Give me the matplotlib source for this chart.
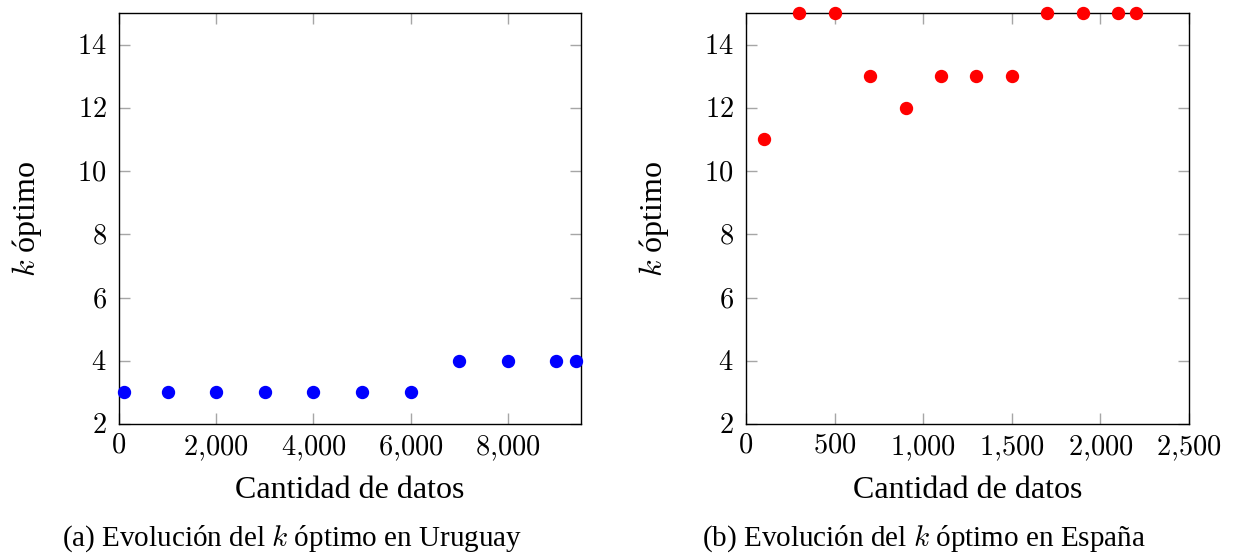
import matplotlib.pyplot as plt
from matplotlib.ticker import FuncFormatter, MultipleLocator

plt.rcParams['font.family'] = ['Liberation Serif', 'DejaVu Serif']
plt.rcParams['mathtext.fontset'] = 'cm'

# Uruguay
uy_datos = [100, 1000, 2000, 3000, 4000, 5000, 6000, 7000, 8000, 9000, 9400]
uy_k = [3, 3, 3, 3, 3, 3, 3, 4, 4, 4, 4]

# España
es_datos = [100, 300, 500, 700, 900, 1100, 1300, 1500, 1700, 1900, 2100, 2200]
es_k = [11, 15, 15, 13, 12, 13, 13, 13, 15, 15, 15, 15]


def miles(v, pos):
    s = '{:,.0f}'.format(v).replace(',', '{,}')
    return '$' + s + '$'


fig = plt.figure(figsize=(12.44, 5.53), dpi=100)
ax1 = fig.add_axes([0.0957, 0.2333, 0.371, 0.7432])
ax2 = fig.add_axes([0.5997, 0.2333, 0.3561, 0.7432])

for ax, x, y, col, xmax, step in [(ax1, uy_datos, uy_k, 'blue', 9500, 2000),
                                  (ax2, es_datos, es_k, 'red', 2500, 500)]:
    ax.plot(x, y, 'o', color=col, markersize=8.6, clip_on=False, zorder=3)
    ax.set_xlim(0, xmax)
    ax.set_ylim(2, 15)
    ax.xaxis.set_major_locator(MultipleLocator(step))
    ax.yaxis.set_major_locator(MultipleLocator(2))
    ax.xaxis.set_major_formatter(FuncFormatter(miles))
    ax.yaxis.set_major_formatter(FuncFormatter(miles))
    ax.tick_params(direction='in', top=True, right=True, length=8, width=1,
                   color='0.65', labelsize=20.5)
    ax.tick_params(axis='x', pad=7)
    ax.tick_params(axis='y', pad=9)
    for sp in ax.spines.values():
        sp.set_linewidth(1)
    ax.set_xlabel('Cantidad de datos', fontsize=23, labelpad=9)
    ax.set_ylabel('$k$ óptimo', fontsize=23, labelpad=24)

fig.text(0.235, 0.013, '(a) Evolución del $k$ óptimo en Uruguay', fontsize=21, ha='center', va='baseline')
fig.text(0.743, 0.013, '(b) Evolución del $k$ óptimo en España', fontsize=21, ha='center', va='baseline')

fig.savefig('out.png', dpi=100)
